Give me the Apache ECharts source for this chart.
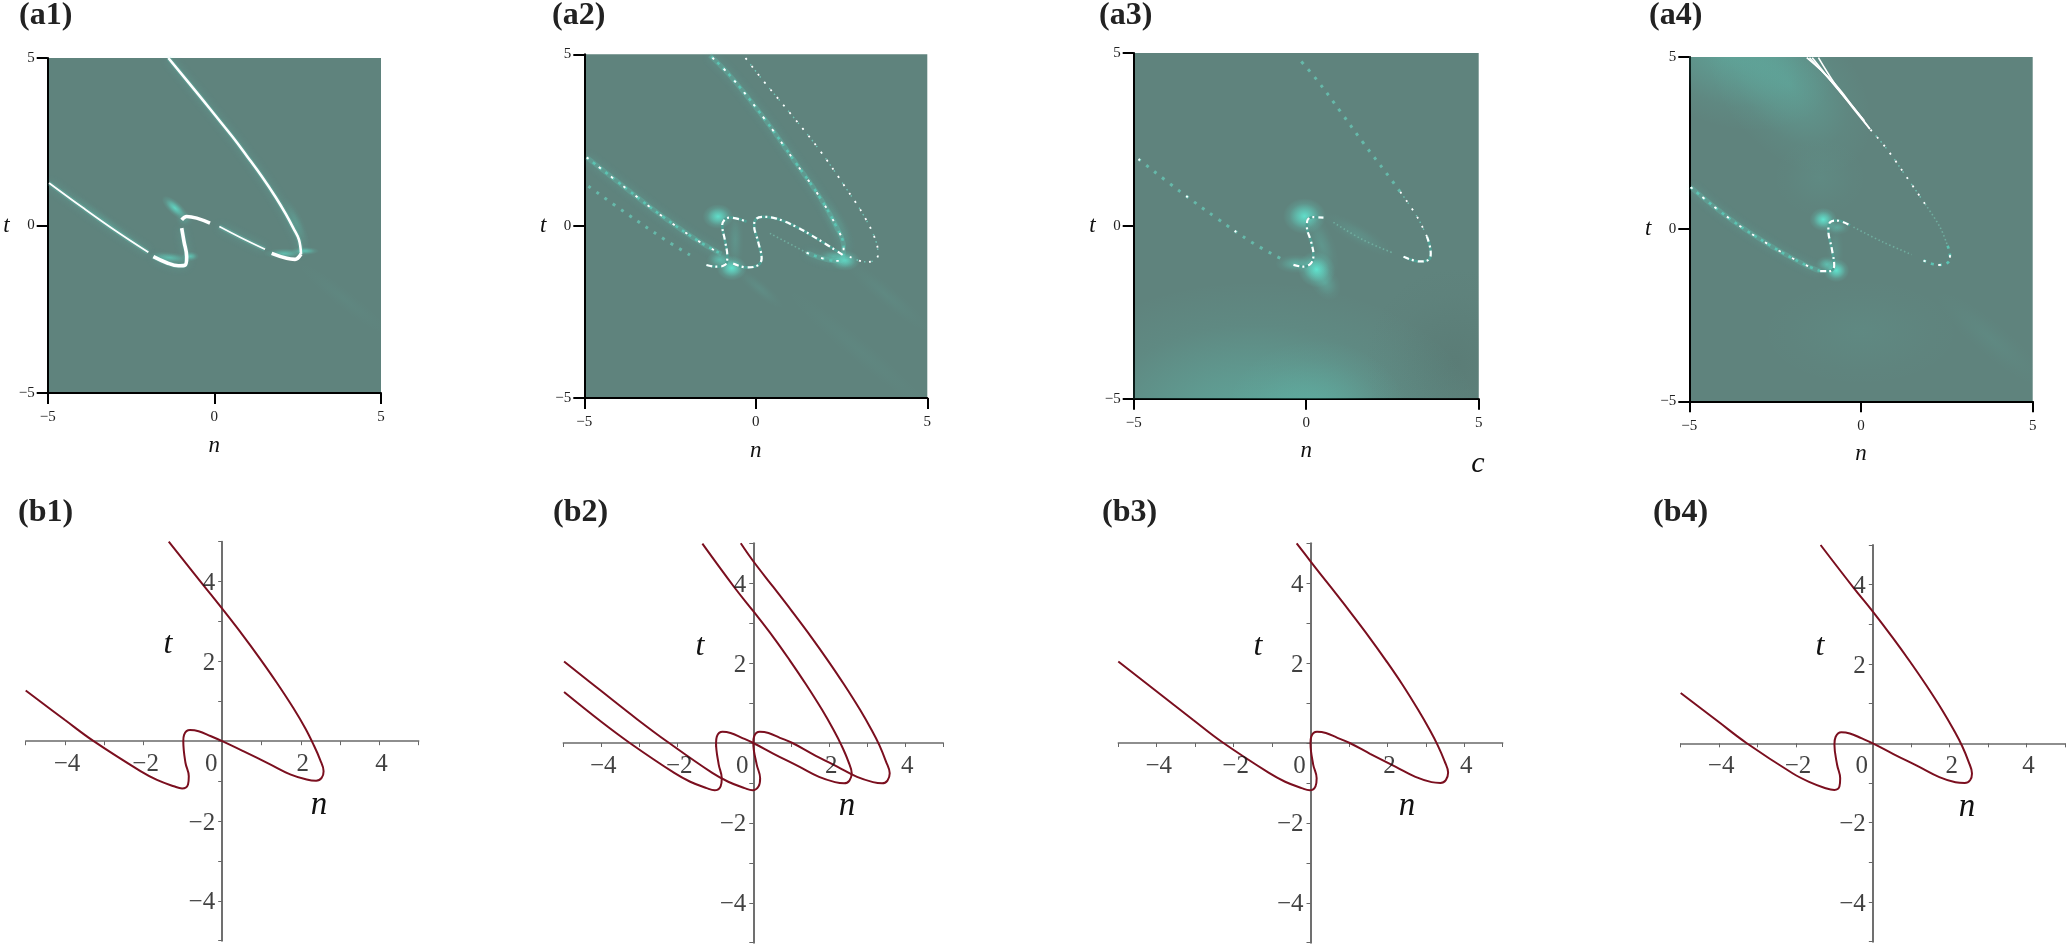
<!DOCTYPE html>
<html><head><meta charset="utf-8">
<style>html,body{margin:0;padding:0;background:#fff}#c{width:2066px;height:944px}</style>
<script src="https://cdn.jsdelivr.net/npm/echarts@6/dist/echarts.min.js"></script>
</head><body><div id="c"></div>
<script>
// ---------- values: [n, t] ----------
const a1Left=[[-4.96,1.27],[-3.93,.52],[-2.93,-.18],[-1.98,-.8]];
const a1Hook=[[-1.83,-.93],[-1.43,-1.11],[-1.08,-1.2],[-.88,-1.18],[-.83,-.93],[-.91,-.48],[-.98,-.08]];
const a1Crest=[[-.98,.17],[-.83,.27],[-.53,.22],[-.13,.07]];
const a1Mid=[[.15,-.03],[.77,-.35],[1.52,-.71]];
const a1Base=[[1.72,-.83],[2.17,-.98],[2.42,-1.01],[2.6,-.85]];
const a1Right=[[2.6,-.85],[2.54,-.43],[2.37,-.08],[2.15,.33],[1.85,.83],[1.42,1.47],[.98,2.07],[.55,2.64],[0,3.32],[-.47,3.9],[-1.38,5]];

const a2UpperLeft=[[-4.93,2],[-3.77,1.09],[-2.7,.27],[-1.63,-.46],[-1,-.81]];
const a2LowerLeft=[[-4.88,1.16],[-3.77,.37],[-2.7,-.36],[-1.92,-.84]];
const a2HookA=[[-1.44,-1.13],[-1.15,-1.18],[-.9,-1.13],[-.83,-.89],[-.9,-.41],[-.98,.03],[-.9,.2],[-.76,.25],[-.27,.13]];
const a2HookB=[[-.66,-1.09],[-.27,-1.2],[.02,-1.16],[.17,-.94],[.07,-.46],[-.05,.03],[.02,.22],[.21,.27],[.6,.22],[1.18,-.02],[1.86,-.41],[2.54,-.84]];
const a2Faint=[[.41,-.21],[1.48,-.77]];
const a2Inner=[[1.48,-.77],[2.16,-.99],[2.45,-1.01],[2.54,-.89],[2.56,-.6],[2.35,-.02],[1.86,.85],[1.18,1.82],[.21,3.18],[-.76,4.39],[-1.34,4.97]];
const a2Outer=[[2.74,-.89],[3.22,-1.04],[3.47,-.99],[3.56,-.84],[3.51,-.46],[3.17,.27],[2.64,1.09],[1.86,2.21],[1.09,3.18],[.21,4.24],[-.32,4.92]];

const a3Left=[[-4.86,1.93],[-3.65,.99],[-2.59,.22],[-1.57,-.48],[-.75,-.94]];
const a3Hook=[[-.37,-1.13],[-.08,-1.18],[.14,-1.08],[.21,-.84],[.14,-.45],[.02,-.02],[.04,.17],[.21,.25],[.5,.24]];
const a3Faint=[[.79,.1],[1.66,-.41],[2.53,-.79]];
const a3Bend=[[2.82,-.89],[3.3,-1.03],[3.55,-.98],[3.61,-.79],[3.5,-.31]];
const a3Rise=[[3.5,-.31],[3.21,.27],[2.72,.99]];
const a3Upper=[[2.72,.99],[2.29,1.57],[1.66,2.39],[.99,3.31],[.31,4.22],[-.27,4.9]];

const a4Left=[[-4.96,1.22],[-3.82,.3],[-2.65,-.47],[-1.68,-1.01],[-1.19,-1.22]];
const a4Hook=[[-1.19,-1.22],[-.9,-1.22],[-.78,-1.06],[-.85,-.57],[-.95,-.04],[-.9,.2],[-.71,.25],[-.32,.11]];
const a4Faint=[[-.22,.06],[.65,-.38],[1.48,-.74]];
const a4Lower=[[1.82,-.91],[2.25,-1.04],[2.54,-.96],[2.59,-.76],[2.5,-.43]];
const a4Thin=[[2.5,-.43],[2.3,.06],[1.86,.74]];
const a4Upper=[[1.86,.74],[1.33,1.51],[.75,2.33],[.26,2.91]];
const a4WedgeA=[[.26,2.91],[-.22,3.54],[-.81,4.27],[-1.58,4.98]];
const a4WedgeB=[[.26,2.91],[-.3,3.6],[-.75,4.2],[-1.24,4.98]];
const a4WedgeC=[[.1,3.15],[-.5,3.85],[-1.42,4.98]];
const a4WedgeD=[[.05,3.2],[-.65,4.05],[-1.5,4.98]];

// glow patches of the field: [n, t, spreadN, spreadT, tiltDegrees, strength]
const a1Field=[[-1.18,.52,.5,.2,-42,.85],[-1.35,-.96,.62,.17,-5,.6],[-.72,-.92,.26,.15,0,.65],[2.1,-.84,.62,.16,0,.6],[2.72,-.76,.42,.12,0,.65],[-.9,.2,.28,.25,0,.25],[2.45,.1,.22,.8,25,.22],[3.9,-2.2,1.9,.3,-38,.04],[-3.2,.1,1.8,.16,-37,.12]];
const a2Field=[[-1.1,.28,.45,.36,0,.95],[-.7,-1.22,.44,.36,0,1],[-1.05,-.98,.38,.26,0,.6],[2.6,-1.0,.44,.3,0,.85],[2.25,-.88,.42,.2,0,.45],[-.6,-.4,.25,.9,0,.18],[.1,-1.8,.9,.22,-40,.1],[3.8,-2.0,1.7,.3,-40,.06],[2.35,.1,.3,1.0,30,.15],[3,-3.6,3,.35,-40,.035]];
const a3Field=[[-.05,.28,.62,.52,0,.95],[.3,-1.26,.55,.52,-30,1],[-.3,-1.1,.6,.27,0,.45],[.55,-1.65,.55,.4,-55,.32],[.45,-.55,.38,1,20,.2],[1.5,-.25,1.2,.3,-30,.14],[-1.5,-5.8,6.6,4.2,0,.38],[.3,-5.3,2.6,2,0,.22]];
const a3Shade=[[4.3,-4,2.6,2.8,0,.35]];
const a4Field=[[-3.9,5.1,3.2,2.1,-20,.3],[-2.1,4.2,1.9,3,40,.25],[-1.1,.28,.4,.34,0,1],[-.72,-1.2,.38,.34,0,1],[-1,-1.02,.32,.24,0,.6],[-.7,.05,.4,.22,0,.4],[-.75,-.6,.25,.7,0,.15],[3.8,-3.2,2.2,.5,-40,.06],[-1.2,1.5,1.4,1.2,0,.07],[0,-3,3,1.6,0,.06]];

// tick labels
const aTicks=[-5,0,5];
const bTickStep=1;
const bLabelled=[-4,-2,2,4];
const bOrigin=[0];

// curves of the lower row
const b1Curve=[[-5,1.27],[-4,.53],[-3.27,0],[-2.08,-.75],[-1.66,-.97],[-1.23,-1.13],[-1.02,-1.185],[-.87,-1.085],[-.85,-.88],[-.935,-.54],[-.99,0],[-.97,.16],[-.82,.28],[-.6,.25],[-.3,.13],[0,0],[.535,-.25],[1.22,-.58],[1.73,-.83],[2.15,-.96],[2.39,-.99],[2.53,-.92],[2.58,-.75],[2.49,-.46],[2.32,-.08],[2.11,.33],[1.81,.83],[1.385,1.47],[.96,2.07],[.535,2.64],[0,3.32],[-.47,3.9],[-1.36,5]];
const b2CurveA=[[-4.98,1.275],[-4,.53],[-3.25,0],[-2.08,-.75],[-1.66,-.97],[-1.23,-1.13],[-1.02,-1.185],[-.86,-1.085],[-.83,-.88],[-.91,-.54],[-.98,0],[-.96,.16],[-.81,.28],[-.6,.25],[-.3,.13],[0,0],[.535,-.27],[1.22,-.6],[1.73,-.85],[2.15,-.98],[2.39,-1.01],[2.53,-.94],[2.59,-.76],[2.5,-.46],[2.32,-.06],[2.11,.33],[1.81,.83],[1.385,1.47],[.96,2.07],[.535,2.64],[0,3.3],[-.5,3.9],[-1.34,4.99]];
const b2CurveB=[[-4.98,2.04],[-4,1.3],[-3.05,.59],[-2.26,.03],[-1.08,-.75],[-.66,-.97],[-.23,-1.13],[-.02,-1.185],[.14,-1.085],[.18,-.88],[.09,-.54],[0,0],[.02,.16],[.17,.28],[.4,.25],[.7,.13],[1.03,0],[1.55,-.27],[2.22,-.6],[2.73,-.85],[3.15,-.98],[3.39,-1.01],[3.53,-.94],[3.59,-.76],[3.49,-.46],[3.32,-.06],[3.11,.33],[2.81,.83],[2.385,1.47],[1.96,2.07],[1.535,2.64],[1,3.32],[.53,3.9],[0,4.55],[-.33,5]];
const b3Curve=[[-5,2.04],[-4,1.29],[-3.05,.575],[-2.31,.03],[-1.08,-.75],[-.66,-.97],[-.23,-1.13],[-.02,-1.185],[.13,-1.085],[.16,-.88],[.07,-.54],[0,0],[.02,.16],[.17,.28],[.4,.25],[.7,.13],[1.02,0],[1.55,-.27],[2.22,-.6],[2.73,-.85],[3.15,-.98],[3.38,-1.0],[3.52,-.93],[3.58,-.74],[3.49,-.46],[3.31,-.06],[3.1,.33],[2.8,.83],[2.385,1.47],[1.96,2.07],[1.535,2.64],[1,3.32],[.53,3.9],[0,4.55],[-.36,5]];
const b4Curve=[[-5,1.27],[-4,.53],[-3.29,.01],[-2.08,-.76],[-1.66,-.97],[-1.23,-1.13],[-1.0,-1.175],[-.87,-1.09],[-.85,-.88],[-.93,-.54],[-1,-.03],[-.97,.16],[-.82,.28],[-.6,.25],[-.3,.13],[0,0],[.535,-.27],[1.22,-.6],[1.73,-.85],[2.15,-.98],[2.39,-1.0],[2.53,-.93],[2.58,-.76],[2.49,-.46],[2.32,-.06],[2.11,.33],[1.81,.83],[1.385,1.47],[.96,2.07],[.535,2.64],[0,3.32],[-.5,3.92],[-1.36,5]];

// ---------- layout and styling (separate from the data) ----------
const SERIF='"Liberation Serif","Times New Roman",serif';
const BG='#5f837d';
const WINE='#7b0f1f';

const strokes={
  white:[{color:'#fff',width:3.6}],
  whiteMid:[{color:'#fff',width:2.6}],
  whiteThin:[{color:'#fff',width:1.8}],
  hair:[{color:'#fff',width:1.6}],
  dots:[{color:'#5cc4b3',width:2.6,type:[3,5]},{color:'#fff',width:1.9,type:[2.5,13]}],
  whiteDots:[{color:'#6fc3b4',width:1.4,type:[1.5,6]},{color:'#fff',width:1.8,type:[2,8]}],
  teal:[{color:'#66b9aa',width:3,type:[3,7]}],
  tealSpark:[{color:'#66b9aa',width:3,type:[3,7]},{color:'#fff',width:2,type:[2,58]}],
  faint:[{color:'#70ad9f',width:1.6,type:[1.5,2.5]}],
  hook:[{color:'#4f9f93',width:2.6},{color:'#fff',width:2.2,type:[6,3,2,4]}]
};

const topPanels=[
 {box:[47.7,58,333.3,335],title:'(a1)',tx:19,ty:16,field:a1Field,segs:[[a1Left,'whiteThin'],[a1Hook,'white'],[a1Crest,'white'],[a1Mid,'whiteThin'],[a1Base,'white'],[a1Right,'whiteMid']],halo:[a1Left,a1Mid,a1Right,a1Hook]},
 {box:[584.3,54.3,343,343.7],title:'(a2)',tx:552,ty:16,field:a2Field,segs:[[a2UpperLeft,'dots'],[a2LowerLeft,'teal'],[a2HookA,'hook'],[a2HookB,'hook'],[a2Faint,'faint'],[a2Inner,'dots'],[a2Outer,'whiteDots']],halo:[a2UpperLeft,a2Inner]},
 {box:[1133.7,53,345,345.7],title:'(a3)',tx:1099,ty:16,field:a3Field,shade:a3Shade,segs:[[a3Left,'tealSpark'],[a3Hook,'hook'],[a3Faint,'faint'],[a3Bend,'hook'],[a3Rise,'whiteDots'],[a3Upper,'teal']],halo:[]},
 {box:[1689.3,57,343.4,344.3],title:'(a4)',tx:1649,ty:16,field:a4Field,segs:[[a4Left,'dots'],[a4Hook,'hook'],[a4Faint,'faint'],[a4Lower,'dots'],[a4Thin,'faint'],[a4Upper,'whiteDots'],[a4WedgeA,'hair'],[a4WedgeB,'hair'],[a4WedgeC,'hair'],[a4WedgeD,'hair']],halo:[a4Left]}
];
const lowPanels=[
 {box:[25.7,541.7,393,399],title:'(b1)',tx:18,ty:513,curves:[b1Curve],t:[168,645],n:[319,805]},
 {box:[563.3,543.3,380,399.4],title:'(b2)',tx:553,ty:513,curves:[b2CurveA,b2CurveB],t:[700,647],n:[847,806]},
 {box:[1118.3,543.3,384.4,399.4],title:'(b3)',tx:1102,ty:513,curves:[b3Curve],t:[1258,647],n:[1407,806]},
 {box:[1680.7,545,384.3,396.7],title:'(b4)',tx:1653,ty:513,curves:[b4Curve],t:[1820,647],n:[1967,807]}
];

const grid=[],xAxis=[],yAxis=[],series=[],graphic=[];
const minus=v=>String(v).replace('-','\u2212');
function freeText(text,x,y,font){
  graphic.push({type:'text',x,y,silent:true,style:{text,font,fill:'#111',textAlign:'center',textVerticalAlign:'middle'}});
}
function titleText(text,x,y){
  graphic.push({type:'text',x,y,silent:true,style:{text,font:'bold 32px '+SERIF,fill:'#222',textAlign:'left',textVerticalAlign:'middle'}});
}
function fieldSeries(idx,rows,rgb){
  return {type:'custom',coordinateSystem:'cartesian2d',xAxisIndex:idx,yAxisIndex:idx,silent:true,clip:true,z:2,
    data:rows,encode:{x:0,y:1},
    renderItem(p,api){
      const c=api.coord([api.value(0),api.value(1)]);
      const s=api.size([1,1]);
      const a=api.value(5);
      const col=o=>`rgba(${rgb},${(a*o).toFixed(3)})`;
      return {type:'circle',x:c[0],y:c[1],rotation:api.value(4)*Math.PI/180,
        scaleX:api.value(2)*s[0]/100,scaleY:api.value(3)*s[1]/100,
        shape:{cx:0,cy:0,r:100},
        style:{fill:{type:'radial',x:.5,y:.5,r:.5,colorStops:[{offset:0,color:col(1)},{offset:.35,color:col(.62)},{offset:.7,color:col(.18)},{offset:1,color:col(0)}]}}};
    }};
}
function lineOf(idx,data,st,z){
  return {type:'line',xAxisIndex:idx,yAxisIndex:idx,data,showSymbol:false,symbol:'none',smooth:.4,silent:true,clip:true,z,lineStyle:st};
}
function tickLabels(idx,rows,label){
  return {type:'scatter',xAxisIndex:idx,yAxisIndex:idx,data:rows,symbolSize:0,silent:true,z:5,
    label:{show:true,fontFamily:SERIF,fontSize:25,color:'#111',...label}};
}

topPanels.forEach((p,i)=>{
  grid.push({left:p.box[0],top:p.box[1],width:p.box[2],height:p.box[3],show:true,backgroundColor:BG,borderWidth:0});
  const ax={type:'value',min:-5,max:5,interval:5,splitLine:{show:false},
    axisLine:{onZero:false,lineStyle:{color:'#000',width:2}},
    axisTick:{length:11,lineStyle:{color:'#000',width:2}},
    nameLocation:'middle',nameRotate:0,nameTextStyle:{fontFamily:SERIF,fontStyle:'italic',fontSize:23,color:'#111'},
    axisLabel:{fontFamily:SERIF,fontSize:15,color:'#222',formatter:v=>aTicks.includes(v)?minus(v):''}};
  xAxis.push({...ax,gridIndex:i,position:'bottom',name:'n',nameGap:41,axisLabel:{...ax.axisLabel,margin:17}});
  yAxis.push({...ax,gridIndex:i,position:'left',name:'t',nameGap:38,axisLabel:{...ax.axisLabel,margin:13}});
  if(p.shade) series.push(fieldSeries(i,p.shade,'82,112,106'));
  series.push(fieldSeries(i,p.field,'96,226,205'));
  p.halo.forEach(d=>series.push(lineOf(i,d,{color:'#63dcc8',width:5,opacity:.2,shadowColor:'#63dcc8',shadowBlur:9},3)));
  p.segs.forEach(([d,k])=>strokes[k].forEach((s,j)=>series.push(lineOf(i,d,s,4+j))));
  titleText(p.title,p.tx,p.ty);
});
freeText('c',1478,464,'italic 30px '+SERIF);

lowPanels.forEach((p,k)=>{
  const i=k+topPanels.length;
  grid.push({left:p.box[0],top:p.box[1],width:p.box[2],height:p.box[3],show:false});
  const ax={type:'value',min:-5,max:5,interval:bTickStep,splitLine:{show:false},
    axisTick:{length:4,lineStyle:{color:'#666',width:1}},axisLabel:{show:false}};
  xAxis.push({...ax,gridIndex:i,axisLine:{onZero:true,lineStyle:{color:'#6a6a6a',width:1.5}}});
  yAxis.push({...ax,gridIndex:i,axisLine:{onZero:true,lineStyle:{color:'#707070',width:2}}});
  p.curves.forEach(d=>series.push(lineOf(i,d,{color:WINE,width:2},4)));
  series.push(tickLabels(i,bLabelled.map(v=>[v,0]),{position:'inside',offset:[2,23],formatter:q=>minus(q.value[0])}));
  series.push(tickLabels(i,bLabelled.map(v=>[0,v]),{position:'left',distance:7,offset:[0,2],formatter:q=>minus(q.value[1])}));
  series.push(tickLabels(i,bOrigin.map(v=>[v,v]),{position:'inside',offset:[-11,23],formatter:q=>String(q.value[0])}));
  titleText(p.title,p.tx,p.ty);
  freeText('t',p.t[0],p.t[1],'italic 32px '+SERIF);
  freeText('n',p.n[0],p.n[1],'italic 33px '+SERIF);
});

const chart=echarts.init(document.getElementById('c'),null,{renderer:'canvas'});
chart.setOption({animation:false,backgroundColor:'#fff',grid,xAxis,yAxis,series,graphic,tooltip:{show:false}});
</script></body></html>
